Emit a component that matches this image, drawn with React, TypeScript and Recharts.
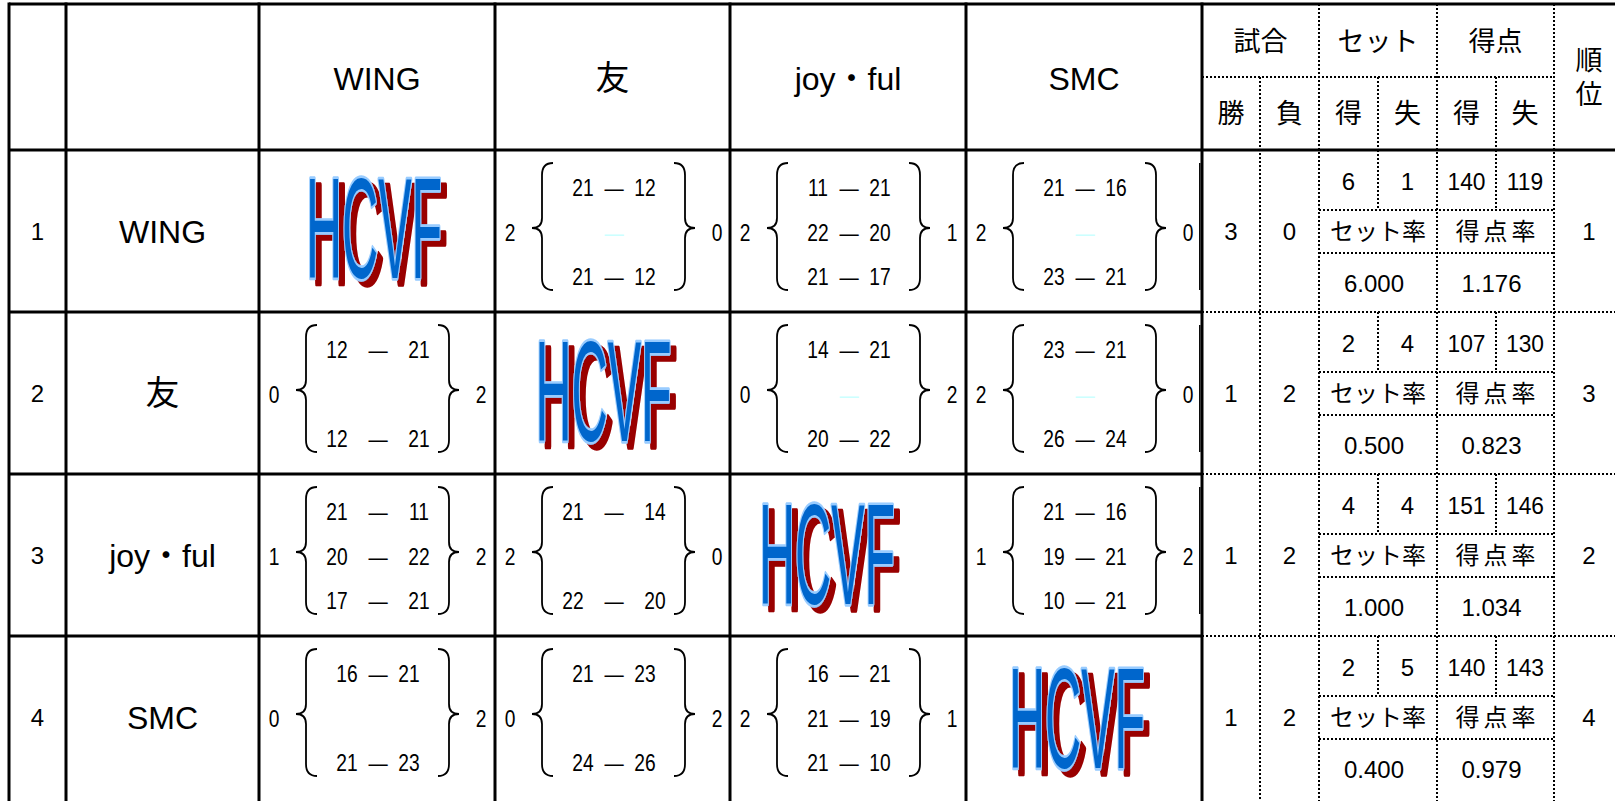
import React from "react";
import { ComposedChart, XAxis, YAxis, Scatter, ReferenceLine } from "recharts";

// ---- data ----
const TEAMS = ["WING", "友", "joy・ful", "SMC"];
const ROW_NUMBERS = ["1", "2", "3", "4"];

type Game = [number, number] | null;

// GAMES[row][col] = the three set scores of row team vs column team
const GAMES: (Game[] | null)[][] = [
  [null, [[21, 12], null, [21, 12]], [[11, 21], [22, 20], [21, 17]], [[21, 16], null, [23, 21]]],
  [[[12, 21], null, [12, 21]], null, [[14, 21], null, [20, 22]], [[23, 21], null, [26, 24]]],
  [[[21, 11], [20, 22], [17, 21]], [[21, 14], null, [22, 20]], null, [[21, 16], [19, 21], [10, 21]]],
  [[[16, 21], null, [21, 23]], [[21, 23], null, [24, 26]], [[16, 21], [21, 19], [21, 10]], null],
];

const MATCH_WON = [3, 1, 1, 1];
const MATCH_LOST = [0, 2, 2, 2];
const SETS_WON = [6, 2, 4, 2];
const SETS_LOST = [1, 4, 4, 5];
const POINTS_WON = [140, 107, 151, 140];
const POINTS_LOST = [119, 130, 146, 143];
const RANKS = [1, 3, 2, 4];

const STAT_HEAD = ["試合", "セット", "得点"];
const STAT_SUB = ["勝", "負", "得", "失", "得", "失"];
const RANK_HEAD = "順位";

// ---- sheet layout ----
const W = 1615;
const H = 801;
const TOP = 4;
const HEAD = 150;
const MID_HEAD = 77;
const ROW_H = 162;
const COLS = [9, 66, 259, 495, 730, 966, 1202];
const STAT_COLS = [1202, 1260, 1319, 1378, 1437, 1496, 1554];
const RANK_X = 1589;
const WIDE_CELLS = ["1-0", "2-0", "2-1"];
const LOGO_NUDGE = [[-3, -4], [-9, -3], [-21, -2], [-7, 0]];

const FONT_LATIN = "'Liberation Sans', 'Noto Sans CJK JP', sans-serif";
const FONT_CJK = "'Noto Sans CJK JP', sans-serif";
const SCORE_SQUEEZE = 0.8;

const rowTop = (i: number) => HEAD + i * ROW_H;
const mid = (a: number, b: number) => (a + b) / 2;

interface TextItem {
  x: number;
  y: number;
  text: string;
  size: number;
  font: string;
  color?: string;
  spacing?: number;
  sx?: number;
  vertical?: boolean;
}

interface Seg {
  x1: number;
  y1: number;
  x2: number;
  y2: number;
  w: number;
  dash?: string;
}

function buildTexts(): TextItem[] {
  const t: TextItem[] = [];
  const add = (x: number, y: number, text: string | number, size: number, font = FONT_LATIN, extra: Partial<TextItem> = {}) =>
    t.push({ x, y, text: String(text), size, font, ...extra });
  const score = (x: number, y: number, text: string | number, color?: string) =>
    add(x, y, text, 24, FONT_LATIN, { sx: SCORE_SQUEEZE, color });

  // header
  TEAMS.forEach((name, j) => add(mid(COLS[j + 2], COLS[j + 3]), MID_HEAD + 1, name, name === "友" ? 34 : 32));
  STAT_HEAD.forEach((s, k) => add(mid(STAT_COLS[k * 2], STAT_COLS[k * 2 + 2]), 41, s, 27, FONT_CJK));
  STAT_SUB.forEach((s, k) => add(mid(STAT_COLS[k], STAT_COLS[k + 1]), 113, s, 27, FONT_CJK));
  add(RANK_X, MID_HEAD, RANK_HEAD, 27, FONT_CJK, { vertical: true, spacing: 7 });

  TEAMS.forEach((name, i) => {
    const ry = rowTop(i);
    add(mid(COLS[0], COLS[1]), ry + 81, ROW_NUMBERS[i], 24);
    add(mid(COLS[1], COLS[2]), ry + 81, name, name === "友" ? 34 : 32);

    // match cells
    GAMES[i].forEach((games, j) => {
      if (!games) return;
      const x0 = COLS[j + 2];
      const won = games.filter((g) => g && g[0] > g[1]).length;
      const lost = games.filter((g) => g && g[0] < g[1]).length;
      score(x0 + 15, ry + 82, won);
      score(x0 + 222, ry + 82, lost);
      const gap = WIDE_CELLS.includes(`${i}-${j}`) ? 41 : 31;
      games.forEach((g, k) => {
        const y = ry + [37, 82, 126][k];
        if (g) {
          score(x0 + 119 - gap, y, g[0]);
          score(x0 + 119, y, "—");
          score(x0 + 119 + gap, y, g[1]);
        } else if (j > i) {
          score(x0 + 119, y, "—", "#ccffff");
        }
      });
    });

    // standings
    add(mid(STAT_COLS[0], STAT_COLS[1]), ry + 81, MATCH_WON[i], 24);
    add(mid(STAT_COLS[1], STAT_COLS[2]), ry + 81, MATCH_LOST[i], 24);
    add(mid(STAT_COLS[2], STAT_COLS[3]), ry + 31, SETS_WON[i], 24);
    add(mid(STAT_COLS[3], STAT_COLS[4]), ry + 31, SETS_LOST[i], 24);
    add(mid(STAT_COLS[4], STAT_COLS[5]), ry + 31, POINTS_WON[i], 24, FONT_LATIN, { sx: 0.95 });
    add(mid(STAT_COLS[5], STAT_COLS[6]), ry + 31, POINTS_LOST[i], 24, FONT_LATIN, { sx: 0.95 });
    add(mid(STAT_COLS[2], STAT_COLS[4]), ry + 81, "セット率", 24, FONT_CJK);
    add(mid(STAT_COLS[4], STAT_COLS[6]), ry + 81, "得点率", 24, FONT_CJK, { spacing: 4 });
    add(mid(STAT_COLS[2], STAT_COLS[4]) - 4, ry + 133, (SETS_WON[i] / SETS_LOST[i]).toFixed(3), 24);
    add(mid(STAT_COLS[4], STAT_COLS[6]) - 4, ry + 133, (POINTS_WON[i] / POINTS_LOST[i]).toFixed(3), 24);
    add(RANK_X, ry + 81, RANKS[i], 24);
  });
  return t;
}

function buildLines(): Seg[] {
  const s: Seg[] = [];
  const solid = (x1: number, y1: number, x2: number, y2: number, w = 3) => s.push({ x1, y1, x2, y2, w });
  const dot = (x1: number, y1: number, x2: number, y2: number) => s.push({ x1, y1, x2, y2, w: 2, dash: "2 2" });

  solid(COLS[0], TOP, W, TOP);
  solid(COLS[0], HEAD, W, HEAD);
  COLS.forEach((x) => solid(x, TOP - 1.5, x, H));
  dot(STAT_COLS[0], MID_HEAD, STAT_COLS[6], MID_HEAD);
  [2, 4, 6].forEach((k) => dot(STAT_COLS[k], TOP, STAT_COLS[k], H));
  dot(STAT_COLS[1], MID_HEAD, STAT_COLS[1], H);
  [3, 5].forEach((k) => dot(STAT_COLS[k], MID_HEAD, STAT_COLS[k], HEAD));

  TEAMS.forEach((_, i) => {
    const ry = rowTop(i);
    if (i > 0) {
      solid(COLS[0], ry, STAT_COLS[0], ry);
      dot(STAT_COLS[0], ry, W, ry);
    }
    [3, 5].forEach((k) => dot(STAT_COLS[k], ry, STAT_COLS[k], ry + 60));
    dot(STAT_COLS[2], ry + 60, STAT_COLS[6], ry + 60);
    dot(STAT_COLS[2], ry + 103, STAT_COLS[6], ry + 103);
    if (GAMES[i][3]) solid(COLS[6] - 2.2, ry + 13, COLS[6] - 2.2, ry + 140, 1.5);
  });
  return s;
}

const braces = GAMES.flatMap((row, i) =>
  row.map((g, j) => (g ? { x: COLS[j + 2], y: rowTop(i) } : null)).filter(Boolean)
) as { x: number; y: number }[];

const logos = TEAMS.map((_, i) => ({
  id: i,
  x: mid(COLS[i + 2], COLS[i + 3]) + LOGO_NUDGE[i][0],
  y: rowTop(i) + 81 + LOGO_NUDGE[i][1],
}));

function TextShape(p: any) {
  const d: TextItem = p.payload;
  const sp = d.spacing ?? 0;
  if (d.vertical) {
    return (
      <text
        x={p.cx}
        y={p.cy + sp / 2}
        textAnchor="middle"
        fontSize={d.size}
        fontFamily={d.font}
        fill={d.color ?? "#000"}
        letterSpacing={sp || undefined}
        style={{ writingMode: "vertical-rl" }}
      >
        {d.text}
      </text>
    );
  }
  return (
    <text
      x={0}
      y={0}
      transform={`translate(${p.cx + sp / 2},${p.cy + d.size * 0.36}) scale(${d.sx ?? 1},1)`}
      textAnchor="middle"
      fontSize={d.size}
      fontFamily={d.font}
      fill={d.color ?? "#000"}
      letterSpacing={sp || undefined}
    >
      {d.text}
    </text>
  );
}

function BraceShape(p: any) {
  const x0 = p.cx;
  const top = p.cy + 13;
  const bot = p.cy + 140;
  const m = p.cy + 78;
  const brace = (tip: number, v: number, h: number) =>
    `M${h},${top} Q${v},${top} ${v},${top + 12} L${v},${m - 10} Q${v},${m} ${tip},${m} ` +
    `Q${v},${m} ${v},${m + 10} L${v},${bot - 12} Q${v},${bot} ${h},${bot}`;
  return (
    <g fill="none" stroke="#000" strokeWidth={1.8}>
      <path d={brace(x0 + 37, x0 + 47, x0 + 58)} />
      <path d={brace(x0 + 200, x0 + 190, x0 + 179)} />
    </g>
  );
}

// WordArt-like "HCVF": blue letters, light-blue rim, dark red drop shadow
function LogoShape(p: any) {
  const fid = `hcvf-shadow-${p.payload.id}`;
  return (
    <g>
      <defs>
        <filter id={fid} x="-10%" y="-10%" width="130%" height="130%">
          <feFlood floodColor="#990000" result="red" />
          <feComposite in="red" in2="SourceAlpha" operator="in" result="shade" />
          <feOffset in="shade" dx={12} dy={4.2} result="moved" />
          <feMerge>
            <feMergeNode in="moved" />
            <feMergeNode in="SourceGraphic" />
          </feMerge>
        </filter>
      </defs>
      <text
        x={0}
        y={36}
        textAnchor="middle"
        fontSize={100}
        fontFamily="'Liberation Sans', sans-serif"
        fill="#0066cc"
        stroke="#99ccff"
        strokeWidth={4}
        strokeLinejoin="round"
        paintOrder="stroke"
        vectorEffect="non-scaling-stroke"
        filter={`url(#${fid})`}
        transform={`translate(${p.cx},${p.cy}) scale(0.5,1.42)`}
      >
        HCVF
      </text>
    </g>
  );
}

export default function App() {
  const lines = buildLines();
  const texts = buildTexts();
  return (
    <div style={{ position: "absolute", left: 0, top: 0, background: "#fff" }}>
      <ComposedChart width={W} height={H} margin={{ top: 0, right: 0, bottom: 0, left: 0 }}>
        <XAxis type="number" dataKey="x" domain={[0, W]} allowDataOverflow hide />
        <YAxis type="number" dataKey="y" domain={[0, H]} allowDataOverflow reversed hide />
        {lines.map((l, i) => (
          <ReferenceLine
            key={i}
            segment={[{ x: l.x1, y: l.y1 }, { x: l.x2, y: l.y2 }]}
            stroke="#000"
            strokeWidth={l.w}
            strokeDasharray={l.dash}
            ifOverflow="visible"
          />
        ))}
        <Scatter data={braces} shape={BraceShape} isAnimationActive={false} />
        <Scatter data={logos} shape={LogoShape} isAnimationActive={false} />
        <Scatter data={texts} shape={TextShape} isAnimationActive={false} />
      </ComposedChart>
    </div>
  );
}
